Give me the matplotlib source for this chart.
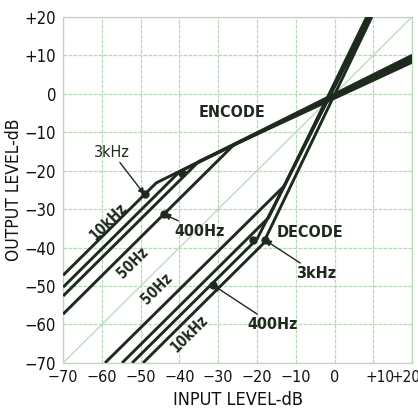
import matplotlib
matplotlib.use("Agg")
import matplotlib.pyplot as plt

plt.rcParams['font.family'] = ['DejaVu Sans']
plt.rcParams['font.stretch'] = 'condensed'

# Axis ticks (dB)
ticks = [-70, -60, -50, -40, -30, -20, -10, 0, 10, 20]
tick_labels = ['\u221270', '\u221260', '\u221250', '\u221240', '\u221230', '\u221220',
               '\u221210', '0', '+10', '+20']
# the two right-most input labels are set slightly apart from their grid lines
shifted_labels = {10: ('+10', 11.7), 20: ('+20', 18.4)}

# Encode curves: input level -> output level (dB)
enc_10k_in = [-70, -46, 20]
enc_10k_out = [-47.2, -23.2, 10.0]
enc_3k_in = [-70, -40, 20]
enc_3k_out = [-50.3, -20.3, 9.4]
enc_400_in = [-70, -35, 20]
enc_400_out = [-52.6, -17.6, 8.8]
enc_50_in = [-70, -26, 20]
enc_50_out = [-57.3, -13.3, 8.2]

# Decode curves: input level -> output level (dB)
dec_10k_in = [-59.2, -13.0, 8.3]
dec_10k_out = [-70, -24.0, 20]
dec_3k_in = [-54.8, -17.0, 8.8]
dec_3k_out = [-70, -32.2, 20]
dec_400_in = [-52.2, -20.0, 9.2]
dec_400_out = [-70, -37.8, 20]
dec_50_in = [-49.4, -24.0, -18.5, 9.6]
dec_50_out = [-70, -44.6, -39.1, 20]

# Annotated points
enc_pts_in = [-49.0, -44.0, -39.3]
enc_pts_out = [-26.2, -31.3, -20.6]
dec_pts_in = [-18.0, -31.3, -21.0]
dec_pts_out = [-38.0, -49.8, -38.0]

ink = '#1d2a1d'
grid_c = '#b8d8b8'

fig = plt.figure(figsize=(4.18, 4.11), dpi=100)
ax = fig.add_axes([0.151, 0.117, 0.835, 0.842])
ax.set_xlim(-70, 20)
ax.set_ylim(-70, 20)
ax.set_xticks(ticks)
ax.set_yticks(ticks)
ax.set_xticklabels(['' if t in shifted_labels else lab for t, lab in zip(ticks, tick_labels)])
ax.set_yticklabels(tick_labels)
ax.tick_params(length=0, colors='#111111')
ax.tick_params(axis='x', pad=5, labelsize=11.5)
ax.tick_params(axis='y', pad=5, labelsize=12)

for t, (lab, xpos) in shifted_labels.items():
    ax.text(xpos, -0.02, lab, transform=ax.get_xaxis_transform(), fontsize=11,
            ha='center', va='top', color='#111111')

ax.grid(True, color=grid_c, lw=0.9, ls=(0, (3, 1)))
for s in ax.spines.values():
    s.set_color(grid_c)
    s.set_linewidth(0.9)

# unity line
ax.plot([-70, 20], [-70, 20], color='#bfdcbf', lw=1.0, zorder=1)

for xs, ys in [(enc_10k_in, enc_10k_out), (enc_3k_in, enc_3k_out),
               (enc_400_in, enc_400_out), (enc_50_in, enc_50_out),
               (dec_10k_in, dec_10k_out), (dec_3k_in, dec_3k_out),
               (dec_400_in, dec_400_out), (dec_50_in, dec_50_out)]:
    ax.plot(xs, ys, color=ink, lw=2.1, solid_capstyle='butt', zorder=3)

ax.plot(enc_pts_in, enc_pts_out, 'o', color=ink, ms=5, zorder=4)
ax.plot(dec_pts_in, dec_pts_out, 'o', color=ink, ms=5, zorder=4)

# text labels
ax.text(-26.5, -5, 'ENCODE', fontsize=11.5, fontweight='bold', ha='center', va='center', color=ink)
ax.text(-6.3, -36, 'DECODE', fontsize=11.5, fontweight='bold', ha='center', va='center', color=ink)
ax.text(-58.4, -33.4, '10kHz', fontsize=10.5, fontweight='bold', rotation=45,
        ha='center', va='center', color=ink)
ax.text(-52.0, -44.0, '50Hz', fontsize=10.5, fontweight='bold', rotation=45,
        ha='center', va='center', color=ink)
ax.text(-45.8, -50.6, '50Hz', fontsize=10.5, fontweight='bold', rotation=45,
        ha='center', va='center', color=ink)
ax.text(-37.3, -62.5, '10kHz', fontsize=10.5, fontweight='bold', rotation=45,
        ha='center', va='center', color=ink)

arrow = dict(arrowstyle='-|>', color=ink, lw=1.0, mutation_scale=9, shrinkA=0, shrinkB=0)
ax.annotate('3kHz', xy=(-49.0, -26.2), xytext=(-57.4, -15.2), fontsize=11.5,
            ha='center', va='center', color=ink, arrowprops=arrow)
ax.annotate('400Hz', xy=(-44.0, -31.3), xytext=(-34.7, -35.7), fontsize=11.5,
            fontweight='bold', ha='center', va='center', color=ink, arrowprops=arrow)
ax.annotate('3kHz', xy=(-18.0, -38.0), xytext=(-4.8, -46.7), fontsize=11.5,
            fontweight='bold', ha='center', va='center', color=ink, arrowprops=arrow)
ax.annotate('400Hz', xy=(-31.3, -49.8), xytext=(-15.9, -60.0), fontsize=11.5,
            fontweight='bold', ha='center', va='center', color=ink, arrowprops=arrow)

ax.set_xlabel('INPUT LEVEL-dB', fontsize=13, color='#111111', va='center')
ax.set_ylabel('OUTPUT LEVEL-dB', fontsize=12.5, color='#111111', va='center')
ax.xaxis.set_label_coords(0.5, -0.107)
ax.yaxis.set_label_coords(-0.14, 0.5)

fig.savefig('out.png', dpi=100)
